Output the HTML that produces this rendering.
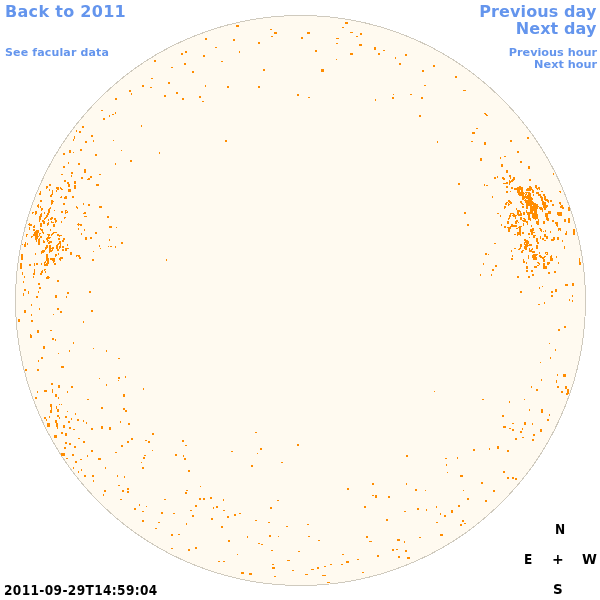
<!DOCTYPE html>
<html><head><meta charset="utf-8">
<style>
html,body{margin:0;padding:0;background:#fff;width:600px;height:600px;overflow:hidden}
body{position:relative;font-family:"DejaVu Sans","Liberation Sans",sans-serif;font-weight:bold}
.t{position:absolute;white-space:nowrap;line-height:1}
.b{color:#6495ED}
.k{font-family:"DejaVu Sans Condensed","DejaVu Sans",sans-serif;font-size:13.5px;color:#000}
.n{font-family:"DejaVu Sans",sans-serif}
#svg{position:absolute;left:0;top:0}
</style></head><body>
<svg id="svg" width="600" height="600" viewBox="0 0 600 600" shape-rendering="crispEdges">
<circle cx="300.5" cy="300.5" r="285" fill="#FFFAF0" stroke="#cfcabe" stroke-width="1" shape-rendering="crispEdges"/>
<path fill="#ff8c00" d="M181 53h2v2h-2zM185 51h2v2h-2zM154 60h2v2h-2zM184 63h2v2h-2zM171 67h2v1h-2zM192 71h2v2h-2zM151 78h2v1h-2zM168 82h2v2h-2zM142 85h2v2h-2zM150 87h2v1h-2zM129 90h2v2h-2zM131 93h1v2h-1zM176 92h2v2h-2zM164 95h2v2h-2zM182 98h2v2h-2zM199 96h2v2h-2zM115 98h2v2h-2zM236 25h3v2h-3zM270 29h2v1h-2zM274 32h3v2h-3zM271 36h2v1h-2zM205 38h2v2h-2zM233 39h2v2h-2zM258 42h2v2h-2zM215 47h2v1h-2zM239 51h1v2h-1zM203 55h2v2h-2zM221 61h2v1h-2zM263 69h2v2h-2zM205 85h1v2h-1zM227 86h2v2h-2zM258 86h2v2h-2zM297 94h2v2h-2zM345 22h3v2h-3zM342 27h2v1h-2zM307 32h3v2h-3zM301 37h2v2h-2zM350 32h3v1h-3zM360 33h2v2h-2zM356 36h2v1h-2zM336 38h3v1h-3zM336 43h2v1h-2zM359 44h3v2h-3zM315 50h2v2h-2zM374 47h2v3h-2zM383 50h2v1h-2zM378 53h2v2h-2zM350 53h3v2h-3zM336 59h1v1h-1zM395 57h1v2h-1zM399 63h2v2h-2zM321 69h3v3h-3zM308 97h2v1h-2zM392 97h2v2h-2zM393 94h1v1h-1zM375 99h1v2h-1zM405 54h2v2h-2zM433 65h2v2h-2zM422 70h2v2h-2zM455 76h2v2h-2zM424 85h2v1h-2zM463 90h3v1h-3zM410 94h2v1h-2zM421 97h2v2h-2zM82 126h2v2h-2zM76 130h1v2h-1zM79 131h2v2h-2zM74 136h1v3h-1zM73 139h1v2h-1zM91 135h2v2h-2zM93 140h1v2h-1zM85 141h2v2h-2zM80 149h2v2h-2zM69 150h2v3h-2zM73 152h1v1h-1zM63 153h2v2h-2zM95 154h2v2h-2zM68 162h1v2h-1zM78 163h2v2h-2zM63 166h2v2h-2zM84 169h2v4h-2zM71 172h2v2h-2zM71 175h1v2h-1zM99 174h2v1h-2zM81 177h2v2h-2zM90 176h2v2h-2zM88 178h2v2h-2zM87 179h2v1h-2zM65 180h1v2h-1zM74 181h2v3h-2zM67 182h2v2h-2zM68 184h2v3h-2zM74 185h2v4h-2zM96 184h3v2h-3zM68 189h3v3h-3zM65 196h2v3h-2zM72 196h2v2h-2zM101 110h2v1h-2zM109 115h1v2h-1zM112 114h2v1h-2zM115 112h1v2h-1zM103 118h2v2h-2zM141 125h1v2h-1zM113 140h1v1h-1zM121 150h1v1h-1zM159 152h1v2h-1zM130 160h2v2h-2zM115 163h1v2h-1zM202 101h2v1h-2zM225 140h2v2h-2zM419 115h2v2h-2zM484 113h2v1h-2zM485 114h2v1h-2zM486 115h2v1h-2zM476 128h2v1h-2zM472 132h3v2h-3zM437 141h1v2h-1zM471 141h2v1h-2zM484 142h2v3h-2zM480 158h2v3h-2zM494 177h2v2h-2zM497 176h1v2h-1zM458 183h2v2h-2zM484 184h1v2h-1zM486 185h2v1h-2zM492 196h1v2h-1zM527 137h2v2h-2zM510 140h2v2h-2zM517 151h2v2h-2zM504 156h2v1h-2zM500 157h1v2h-1zM520 161h2v2h-2zM501 164h2v3h-2zM528 166h2v3h-2zM506 170h2v3h-2zM553 173h1v2h-1zM560 191h1v2h-1zM560 202h1v3h-1zM561 205h2v2h-2zM562 207h2v2h-2zM560 206h2v2h-2zM568 207h2v4h-2zM560 212h2v4h-2zM564 219h2v1h-2zM568 218h2v2h-2zM497 213h2v1h-2zM494 243h2v1h-2zM560 228h1v3h-1zM564 219h2v3h-2zM568 218h2v5h-2zM565 233h2v2h-2zM566 231h1v2h-1zM573 229h2v6h-2zM579 258h1v7h-1zM580 262h1v3h-1zM495 265h2v2h-2zM492 269h2v2h-2zM491 274h1v2h-1zM526 266h2v3h-2zM534 266h3v2h-3zM537 265h2v1h-2zM543 265h2v4h-2zM545 266h2v3h-2zM526 270h2v2h-2zM531 270h2v2h-2zM532 274h2v2h-2zM528 276h2v2h-2zM517 276h2v2h-2zM548 272h2v2h-2zM554 271h2v2h-2zM565 284h3v2h-3zM572 283h2v3h-2zM539 287h1v2h-1zM542 286h1v1h-1zM520 291h2v2h-2zM551 291h2v2h-2zM555 289h2v3h-2zM551 295h2v2h-2zM572 295h1v2h-1zM569 299h1v2h-1zM572 300h1v2h-1zM538 304h2v1h-2zM544 302h1v2h-1zM22 244h1v1h-1zM24 244h1v3h-1zM21 254h2v6h-2zM20 263h2v6h-2zM29 264h2v2h-2zM34 263h1v3h-1zM34 269h1v4h-1zM22 272h1v3h-1zM33 273h2v2h-2zM33 276h1v2h-1zM24 276h1v2h-1zM23 281h1v2h-1zM39 287h2v2h-2zM24 289h2v2h-2zM28 291h1v3h-1zM23 293h1v3h-1zM38 291h1v2h-1zM36 296h2v2h-2zM67 292h2v2h-2zM66 296h1v2h-1zM55 295h2v3h-2zM31 304h1v2h-1zM39 308h1v2h-1zM24 310h2v3h-2zM57 308h2v2h-2zM60 311h2v2h-2zM53 314h1v1h-1zM31 314h1v2h-1zM18 319h2v3h-2zM31 320h2v2h-2zM37 330h2v3h-2zM50 330h2v1h-2zM30 334h1v1h-1zM88 204h2v2h-2zM99 206h3v2h-3zM85 212h1v2h-1zM85 216h2v1h-2zM107 216h2v2h-2zM109 226h3v2h-3zM116 227h1v1h-1zM95 232h2v2h-2zM85 237h2v3h-2zM90 237h2v2h-2zM109 239h1v2h-1zM121 242h2v2h-2zM99 245h1v2h-1zM100 248h1v1h-1zM108 246h1v1h-1zM110 246h2v1h-2zM115 246h1v2h-1zM93 251h1v1h-1zM92 259h2v2h-2zM89 291h2v2h-2zM166 259h1v2h-1zM464 212h2v2h-2zM467 224h2v2h-2zM485 253h2v2h-2zM488 254h1v1h-1zM483 263h1v2h-1zM480 274h1v2h-1zM30 335h2v3h-2zM52 338h2v2h-2zM55 339h1v2h-1zM73 342h1v2h-1zM43 346h2v3h-2zM93 348h1v1h-1zM106 350h1v2h-1zM69 350h1v2h-1zM58 353h1v1h-1zM41 357h2v2h-2zM38 360h1v2h-1zM61 366h3v2h-3zM25 369h2v2h-2zM37 369h2v2h-2zM99 378h1v1h-1zM51 383h2v2h-2zM58 385h2v3h-2zM71 386h2v2h-2zM106 384h1v2h-1zM44 390h3v2h-3zM37 391h1v2h-1zM52 389h1v4h-1zM67 391h1v2h-1zM55 394h2v3h-2zM35 397h2v2h-2zM58 397h1v2h-1zM87 399h2v1h-2zM50 404h2v3h-2zM51 407h1v3h-1zM50 410h2v3h-2zM56 406h1v3h-1zM57 409h2v3h-2zM59 404h1v1h-1zM61 404h1v1h-1zM101 407h2v2h-2zM67 411h1v1h-1zM75 413h1v2h-1zM44 417h2v2h-2zM46 419h1v2h-1zM49 416h1v2h-1zM57 415h2v2h-2zM59 417h1v2h-1zM65 416h2v2h-2zM71 418h1v2h-1zM77 419h2v2h-2zM83 420h1v2h-1zM55 420h2v3h-2zM56 423h2v4h-2zM68 421h2v2h-2zM47 423h3v4h-3zM63 425h2v3h-2zM69 427h2v2h-2zM86 422h1v2h-1zM91 428h2v2h-2zM101 426h2v3h-2zM118 358h2v1h-2zM118 377h2v2h-2zM118 380h1v1h-1zM125 376h1v2h-1zM143 388h1v2h-1zM123 394h2v3h-2zM434 391h1v1h-1zM558 329h2v2h-2zM564 326h2v2h-2zM549 343h1v1h-1zM555 349h1v2h-1zM550 357h1v2h-1zM540 362h1v1h-1zM557 374h1v2h-1zM563 374h3v3h-3zM541 379h1v2h-1zM556 380h1v3h-1zM557 386h2v2h-2zM531 386h1v2h-1zM536 389h2v2h-2zM565 386h2v3h-2zM561 391h2v2h-2zM567 389h2v5h-2zM566 393h2v2h-2zM482 399h2v1h-2zM524 399h1v1h-1zM57 427h1v2h-1zM73 429h2v1h-2zM109 427h2v3h-2zM54 435h3v3h-3zM61 432h2v2h-2zM65 433h2v3h-2zM78 438h2v1h-2zM83 441h2v2h-2zM65 442h2v2h-2zM69 443h2v2h-2zM74 446h2v2h-2zM64 447h2v2h-2zM131 438h2v2h-2zM127 441h2v2h-2zM121 445h2v2h-2zM91 450h2v2h-2zM115 452h2v1h-2zM61 453h4v3h-4zM72 454h2v2h-2zM87 455h1v2h-1zM66 458h2v1h-2zM98 458h3v2h-3zM80 459h2v1h-2zM75 461h2v2h-2zM73 467h1v2h-1zM81 469h1v2h-1zM78 471h1v2h-1zM105 467h1v2h-1zM84 475h2v2h-2zM92 475h2v2h-2zM93 480h1v2h-1zM117 475h1v2h-1zM124 476h1v2h-1zM118 485h2v1h-2zM127 488h2v2h-2zM122 490h2v2h-2zM127 491h2v2h-2zM104 490h2v2h-2zM103 494h1v2h-1zM120 499h2v1h-2zM134 508h2v2h-2zM139 504h1v2h-1zM152 433h2v2h-2zM145 440h2v1h-2zM148 441h2v2h-2zM182 440h2v2h-2zM185 445h2v1h-2zM152 450h1v1h-1zM144 455h2v1h-2zM143 457h2v2h-2zM175 454h2v2h-2zM183 455h1v2h-1zM184 458h2v2h-2zM141 462h1v1h-1zM142 467h2v2h-2zM188 470h2v2h-2zM231 451h2v1h-2zM200 486h1v1h-1zM186 490h2v1h-2zM185 492h2v2h-2zM164 499h2v1h-2zM199 498h2v2h-2zM203 498h2v2h-2zM210 497h2v2h-2zM223 499h1v2h-1zM255 432h2v1h-2zM260 448h2v2h-2zM257 453h1v1h-1zM297 444h2v2h-2zM281 462h2v1h-2zM251 465h2v2h-2zM406 455h2v2h-2zM372 483h2v2h-2zM406 483h1v2h-1zM347 488h2v2h-2zM415 489h2v2h-2zM425 490h1v1h-1zM372 495h2v1h-2zM375 495h2v3h-2zM388 496h2v2h-2zM509 401h1v2h-1zM529 409h1v2h-1zM541 409h2v4h-2zM549 414h1v2h-1zM547 419h2v2h-2zM502 415h2v2h-2zM512 423h2v1h-2zM524 422h2v3h-2zM532 423h1v2h-1zM503 426h3v2h-3zM509 428h2v1h-2zM512 429h2v2h-2zM522 428h1v2h-1zM520 431h2v2h-2zM540 429h2v3h-2zM533 434h2v2h-2zM515 438h2v2h-2zM522 437h2v1h-2zM532 439h2v2h-2zM473 449h2v2h-2zM489 448h1v2h-1zM497 446h2v3h-2zM507 450h2v2h-2zM445 458h2v1h-2zM457 457h1v2h-1zM446 464h1v2h-1zM447 472h1v1h-1zM460 475h3v2h-3zM503 471h2v2h-2zM507 477h2v2h-2zM512 477h2v2h-2zM515 478h2v2h-2zM481 482h2v2h-2zM463 490h1v1h-1zM493 490h2v2h-2zM146 506h1v1h-1zM142 511h2v1h-2zM161 512h2v2h-2zM173 513h2v1h-2zM190 510h2v1h-2zM195 505h2v2h-2zM192 515h2v2h-2zM142 520h2v2h-2zM158 522h2v1h-2zM186 523h1v2h-1zM155 528h2v1h-2zM171 534h2v2h-2zM178 534h2v1h-2zM171 548h2v1h-2zM188 549h2v2h-2zM195 547h2v2h-2zM277 500h2v1h-2zM213 507h1v2h-1zM216 506h2v2h-2zM270 507h2v2h-2zM223 510h2v1h-2zM239 513h2v1h-2zM234 514h2v2h-2zM227 516h2v2h-2zM211 518h2v2h-2zM255 520h2v1h-2zM268 522h2v1h-2zM286 526h2v1h-2zM221 526h2v2h-2zM269 535h2v2h-2zM278 536h1v1h-1zM247 536h1v2h-1zM228 540h2v2h-2zM258 543h2v1h-2zM261 544h2v1h-2zM271 550h2v1h-2zM298 551h2v1h-2zM237 554h1v1h-1zM218 561h2v1h-2zM223 561h2v1h-2zM287 560h3v1h-3zM272 564h2v1h-2zM272 567h3v2h-3zM292 570h2v1h-2zM241 572h3v2h-3zM249 573h3v2h-3zM274 576h2v1h-2zM364 506h2v2h-2zM386 519h2v2h-2zM307 524h2v1h-2zM308 536h2v1h-2zM318 540h2v1h-2zM366 536h2v2h-2zM369 541h3v1h-3zM397 539h3v2h-3zM392 549h2v2h-2zM396 549h2v1h-2zM398 556h2v2h-2zM377 555h2v2h-2zM342 554h2v1h-2zM357 559h2v1h-2zM346 561h3v2h-3zM341 564h2v1h-2zM330 564h2v1h-2zM324 566h2v1h-2zM317 567h2v2h-2zM311 569h3v1h-3zM305 574h3v1h-3zM322 575h4v1h-4zM362 572h2v1h-2zM327 582h3v1h-3zM467 498h2v2h-2zM485 500h2v2h-2zM417 508h2v2h-2zM436 506h1v2h-1zM458 505h2v2h-2zM404 511h2v1h-2zM426 509h1v2h-1zM451 510h2v3h-2zM440 513h1v2h-1zM444 515h2v2h-2zM462 520h2v2h-2zM464 523h2v1h-2zM460 524h2v2h-2zM436 522h2v1h-2zM440 534h3v2h-3zM419 537h2v1h-2zM404 541h1v2h-1zM405 550h2v2h-2zM407 557h3v2h-3zM91 310h2v2h-2zM83 321h1v2h-1zM123 408h2v2h-2zM125 410h2v2h-2zM120 421h1v2h-1zM128 423h2v2h-2zM509 175h2v1h-2zM509 176h2v1h-2zM502 177h2v1h-2zM510 177h1v1h-1zM513 177h2v1h-2zM502 178h3v1h-3zM510 178h1v1h-1zM513 178h2v1h-2zM503 179h2v1h-2zM512 179h3v1h-3zM529 179h1v1h-1zM509 180h1v1h-1zM511 180h3v1h-3zM529 180h1v1h-1zM509 181h2v1h-2zM511 181h2v1h-2zM506 182h2v1h-2zM509 182h2v1h-2zM503 183h5v1h-5zM509 183h1v1h-1zM509 184h1v1h-1zM506 186h2v1h-2zM519 186h2v1h-2zM529 186h1v1h-1zM506 187h2v1h-2zM511 187h2v1h-2zM517 187h6v1h-6zM529 187h1v1h-1zM511 188h2v1h-2zM514 188h9v1h-9zM527 188h3v1h-3zM514 189h9v1h-9zM526 189h4v1h-4zM517 190h3v1h-3zM521 190h2v1h-2zM526 190h4v1h-4zM506 191h2v1h-2zM510 191h1v1h-1zM517 191h3v1h-3zM521 191h2v1h-2zM506 192h2v1h-2zM517 192h7v1h-7zM525 192h5v1h-5zM518 193h7v1h-7zM526 193h1v1h-1zM528 193h2v1h-2zM518 194h6v1h-6zM525 194h2v1h-2zM528 194h2v1h-2zM519 195h5v1h-5zM525 195h1v1h-1zM527 195h3v1h-3zM522 196h8v1h-8zM522 197h8v1h-8zM522 198h3v1h-3zM526 198h4v1h-4zM522 199h2v1h-2zM525 199h1v1h-1zM528 199h2v1h-2zM508 200h2v1h-2zM524 200h6v1h-6zM508 201h3v1h-3zM520 201h2v1h-2zM525 201h5v1h-5zM506 202h2v1h-2zM509 202h3v1h-3zM520 202h2v1h-2zM525 202h5v1h-5zM505 203h2v1h-2zM508 203h1v1h-1zM510 203h2v1h-2zM521 203h2v1h-2zM526 203h4v1h-4zM505 204h2v1h-2zM508 204h2v1h-2zM522 204h2v1h-2zM526 204h4v1h-4zM530 179h1v1h-1zM530 180h1v1h-1zM535 185h2v1h-2zM530 186h1v1h-1zM535 186h2v1h-2zM530 187h2v1h-2zM535 187h2v1h-2zM538 187h2v1h-2zM530 188h2v1h-2zM536 188h4v1h-4zM530 189h3v1h-3zM537 189h1v1h-1zM539 189h1v1h-1zM530 190h1v1h-1zM532 190h2v1h-2zM532 191h2v1h-2zM541 191h2v1h-2zM559 191h1v1h-1zM532 192h2v1h-2zM536 192h3v1h-3zM530 193h1v1h-1zM536 193h3v1h-3zM530 194h1v1h-1zM533 194h1v1h-1zM538 194h3v1h-3zM543 194h2v1h-2zM530 195h1v1h-1zM533 195h1v1h-1zM538 195h3v1h-3zM543 195h2v1h-2zM530 196h1v1h-1zM540 196h2v1h-2zM544 196h2v1h-2zM530 197h2v1h-2zM540 197h3v1h-3zM544 197h2v1h-2zM530 198h3v1h-3zM541 198h2v1h-2zM544 198h2v1h-2zM530 199h3v1h-3zM541 199h2v1h-2zM544 199h4v1h-4zM530 200h2v1h-2zM541 200h2v1h-2zM545 200h4v1h-4zM550 200h2v1h-2zM530 201h3v1h-3zM542 201h2v1h-2zM547 201h2v1h-2zM550 201h2v1h-2zM530 202h4v1h-4zM542 202h4v1h-4zM548 202h1v1h-1zM559 202h1v1h-1zM530 203h6v1h-6zM542 203h4v1h-4zM559 203h1v1h-1zM530 204h8v1h-8zM542 204h4v1h-4zM552 204h2v1h-2zM508 205h1v1h-1zM526 205h4v1h-4zM504 206h2v1h-2zM522 206h2v1h-2zM526 206h2v1h-2zM504 207h2v1h-2zM522 207h2v1h-2zM526 207h2v1h-2zM504 208h1v1h-1zM516 208h1v1h-1zM526 208h2v1h-2zM516 209h1v1h-1zM517 210h3v1h-3zM526 210h1v1h-1zM517 211h4v1h-4zM526 211h1v1h-1zM517 212h2v1h-2zM520 212h1v1h-1zM523 212h2v1h-2zM526 212h4v1h-4zM510 213h4v1h-4zM517 213h2v1h-2zM520 213h2v1h-2zM523 213h2v1h-2zM527 213h3v1h-3zM510 214h1v1h-1zM513 214h2v1h-2zM517 214h5v1h-5zM523 214h2v1h-2zM527 214h3v1h-3zM500 215h1v1h-1zM509 215h2v1h-2zM512 215h5v1h-5zM518 215h4v1h-4zM528 215h2v1h-2zM500 216h1v1h-1zM509 216h2v1h-2zM513 216h3v1h-3zM528 216h2v1h-2zM509 217h1v1h-1zM515 217h1v1h-1zM520 217h2v1h-2zM528 217h2v1h-2zM508 218h2v1h-2zM515 218h1v1h-1zM520 218h2v1h-2zM523 218h2v1h-2zM528 218h2v1h-2zM508 219h1v1h-1zM520 219h2v1h-2zM524 219h2v1h-2zM528 219h2v1h-2zM516 220h2v1h-2zM522 220h4v1h-4zM507 221h2v1h-2zM515 221h3v1h-3zM523 221h5v1h-5zM507 222h2v1h-2zM515 222h2v1h-2zM518 222h1v1h-1zM526 222h2v1h-2zM507 223h2v1h-2zM515 223h2v1h-2zM523 223h1v1h-1zM527 223h1v1h-1zM501 224h1v1h-1zM511 224h2v1h-2zM523 224h1v1h-1zM527 224h1v1h-1zM501 225h1v1h-1zM511 225h6v1h-6zM523 225h1v1h-1zM504 226h2v1h-2zM510 226h7v1h-7zM519 226h3v1h-3zM504 227h2v1h-2zM507 227h4v1h-4zM518 227h3v1h-3zM508 228h3v1h-3zM516 228h2v1h-2zM519 228h2v1h-2zM508 229h2v1h-2zM519 229h2v1h-2zM508 230h2v1h-2zM519 230h2v1h-2zM508 231h2v1h-2zM519 231h2v1h-2zM517 232h4v1h-4zM522 232h2v1h-2zM517 233h4v1h-4zM522 233h2v1h-2zM528 233h2v1h-2zM514 234h2v1h-2zM517 234h4v1h-4zM528 234h2v1h-2zM530 205h2v1h-2zM533 205h5v1h-5zM543 205h5v1h-5zM552 205h2v1h-2zM530 206h9v1h-9zM543 206h5v1h-5zM530 207h8v1h-8zM539 207h3v1h-3zM543 207h4v1h-4zM530 208h8v1h-8zM539 208h4v1h-4zM544 208h2v1h-2zM530 209h7v1h-7zM540 209h3v1h-3zM544 209h2v1h-2zM530 210h7v1h-7zM542 210h1v1h-1zM530 211h3v1h-3zM534 211h3v1h-3zM542 211h1v1h-1zM548 211h3v1h-3zM530 212h3v1h-3zM534 212h3v1h-3zM548 212h3v1h-3zM557 212h3v1h-3zM530 213h7v1h-7zM545 213h3v1h-3zM548 213h3v1h-3zM557 213h3v1h-3zM532 214h6v1h-6zM545 214h3v1h-3zM557 214h3v1h-3zM532 215h6v1h-6zM545 215h3v1h-3zM558 215h2v1h-2zM532 216h6v1h-6zM545 216h3v1h-3zM532 217h6v1h-6zM546 217h2v1h-2zM530 218h1v1h-1zM533 218h5v1h-5zM546 218h3v1h-3zM530 219h1v1h-1zM535 219h1v1h-1zM538 219h1v1h-1zM546 219h3v1h-3zM530 220h1v1h-1zM538 220h1v1h-1zM547 220h2v1h-2zM552 220h2v1h-2zM536 221h3v1h-3zM543 221h2v1h-2zM552 221h2v1h-2zM536 222h3v1h-3zM543 222h2v1h-2zM555 222h3v1h-3zM536 223h3v1h-3zM543 223h2v1h-2zM555 223h3v1h-3zM537 224h2v1h-2zM556 224h2v1h-2zM531 225h1v1h-1zM556 225h2v1h-2zM531 226h1v1h-1zM557 226h1v1h-1zM532 228h2v1h-2zM539 228h2v1h-2zM558 228h2v1h-2zM530 229h4v1h-4zM540 229h2v1h-2zM558 229h2v1h-2zM530 230h4v1h-4zM540 230h2v1h-2zM545 230h1v1h-1zM558 230h1v1h-1zM530 231h3v1h-3zM541 231h1v1h-1zM543 231h1v1h-1zM545 231h1v1h-1zM550 231h1v1h-1zM531 232h4v1h-4zM550 232h1v1h-1zM531 233h2v1h-2zM531 234h2v1h-2zM544 234h2v1h-2zM517 235h1v1h-1zM520 235h1v1h-1zM533 235h2v1h-2zM533 236h2v1h-2zM529 237h1v1h-1zM533 237h2v1h-2zM524 239h2v1h-2zM524 240h4v1h-4zM525 241h4v1h-4zM524 242h5v1h-5zM524 243h1v1h-1zM526 243h3v1h-3zM520 244h2v1h-2zM524 244h4v1h-4zM529 244h3v1h-3zM520 245h2v1h-2zM525 245h7v1h-7zM520 246h2v1h-2zM524 246h4v1h-4zM520 247h1v1h-1zM524 247h3v1h-3zM514 248h2v1h-2zM519 248h2v1h-2zM524 248h3v1h-3zM529 248h1v1h-1zM532 248h1v1h-1zM518 249h2v1h-2zM525 249h2v1h-2zM529 249h1v1h-1zM531 249h2v1h-2zM511 250h1v1h-1zM522 250h2v1h-2zM529 250h3v1h-3zM511 251h1v1h-1zM521 251h2v1h-2zM529 251h6v1h-6zM521 252h2v1h-2zM532 252h3v1h-3zM533 254h2v1h-2zM512 255h1v1h-1zM528 255h1v1h-1zM532 255h3v1h-3zM512 256h1v1h-1zM528 256h1v1h-1zM532 256h3v1h-3zM528 257h1v1h-1zM532 257h3v1h-3zM511 258h2v1h-2zM528 258h1v1h-1zM533 258h2v1h-2zM511 259h2v1h-2zM523 259h1v1h-1zM533 259h2v1h-2zM523 260h1v1h-1zM523 261h2v1h-2zM523 262h2v1h-2zM526 262h1v1h-1zM526 263h1v1h-1zM535 235h1v1h-1zM544 235h2v1h-2zM540 236h1v1h-1zM544 236h4v1h-4zM540 237h1v1h-1zM546 237h2v1h-2zM553 237h2v1h-2zM557 237h2v1h-2zM536 238h2v1h-2zM540 238h1v1h-1zM542 238h2v1h-2zM546 238h2v1h-2zM553 238h2v1h-2zM557 238h2v1h-2zM536 239h2v1h-2zM542 239h2v1h-2zM551 239h4v1h-4zM557 239h2v1h-2zM536 240h2v1h-2zM544 240h2v1h-2zM551 240h3v1h-3zM562 240h1v1h-1zM536 241h2v1h-2zM562 241h1v1h-1zM537 242h2v1h-2zM537 243h2v1h-2zM536 245h2v1h-2zM536 246h2v1h-2zM564 246h1v1h-1zM536 247h2v1h-2zM564 247h1v1h-1zM536 248h2v1h-2zM564 248h1v1h-1zM539 252h1v1h-1zM545 252h3v1h-3zM539 253h1v1h-1zM545 253h1v1h-1zM547 253h1v1h-1zM535 254h3v1h-3zM546 254h2v1h-2zM535 255h2v1h-2zM539 255h2v1h-2zM551 255h1v1h-1zM535 256h1v1h-1zM539 256h3v1h-3zM544 256h2v1h-2zM550 256h2v1h-2zM556 256h1v1h-1zM535 257h2v1h-2zM540 257h5v1h-5zM550 257h2v1h-2zM556 257h1v1h-1zM535 258h2v1h-2zM542 258h2v1h-2zM550 258h3v1h-3zM535 259h2v1h-2zM543 259h2v1h-2zM550 259h3v1h-3zM543 260h2v1h-2zM550 260h3v1h-3zM543 261h2v1h-2zM537 262h2v1h-2zM547 262h3v1h-3zM558 262h1v1h-1zM538 263h2v1h-2zM543 263h2v1h-2zM547 263h3v1h-3zM558 263h1v1h-1zM539 264h1v1h-1zM543 264h2v1h-2zM547 264h2v1h-2zM40 200h2v1h-2zM51 200h2v1h-2zM40 201h2v1h-2zM51 201h3v1h-3zM51 202h2v1h-2zM51 203h2v1h-2zM38 204h1v1h-1zM51 204h1v1h-1zM37 205h2v1h-2zM37 206h2v1h-2zM40 206h1v1h-1zM38 207h1v1h-1zM40 207h1v1h-1zM50 207h1v1h-1zM41 208h2v1h-2zM49 208h2v1h-2zM41 209h2v1h-2zM48 209h2v1h-2zM41 210h1v1h-1zM48 210h2v1h-2zM54 210h1v1h-1zM35 211h2v1h-2zM48 211h2v1h-2zM32 212h2v1h-2zM35 212h2v1h-2zM44 212h1v1h-1zM48 212h2v1h-2zM32 213h1v1h-1zM35 213h2v1h-2zM41 213h1v1h-1zM44 213h1v1h-1zM47 213h2v1h-2zM35 214h1v1h-1zM40 214h2v1h-2zM47 214h2v1h-2zM40 215h2v1h-2zM46 215h2v1h-2zM39 216h3v1h-3zM46 216h2v1h-2zM39 217h2v1h-2zM45 217h2v1h-2zM51 217h2v1h-2zM39 218h2v1h-2zM44 218h2v1h-2zM50 218h3v1h-3zM54 218h1v1h-1zM39 219h2v1h-2zM44 219h1v1h-1zM48 219h1v1h-1zM50 219h2v1h-2zM54 219h1v1h-1zM39 220h1v1h-1zM42 220h2v1h-2zM48 220h1v1h-1zM39 221h1v1h-1zM42 221h3v1h-3zM51 221h1v1h-1zM43 222h2v1h-2zM48 222h1v1h-1zM51 222h3v1h-3zM29 223h1v1h-1zM40 223h2v1h-2zM43 223h2v1h-2zM47 223h2v1h-2zM28 224h4v1h-4zM40 224h2v1h-2zM47 224h2v1h-2zM53 224h2v1h-2zM29 225h3v1h-3zM34 225h1v1h-1zM40 225h2v1h-2zM47 225h1v1h-1zM53 225h2v1h-2zM33 226h2v1h-2zM40 226h2v1h-2zM53 226h2v1h-2zM29 227h1v1h-1zM33 227h2v1h-2zM29 228h1v1h-1zM40 228h1v1h-1zM29 229h1v1h-1zM33 229h2v1h-2zM40 229h3v1h-3zM50 229h1v1h-1zM33 230h2v1h-2zM36 230h3v1h-3zM41 230h2v1h-2zM50 230h1v1h-1zM35 231h4v1h-4zM42 231h1v1h-1zM34 232h5v1h-5zM42 232h2v1h-2zM53 232h2v1h-2zM34 233h4v1h-4zM39 233h2v1h-2zM43 233h1v1h-1zM52 233h2v1h-2zM26 234h2v1h-2zM33 234h5v1h-5zM39 234h1v1h-1zM47 234h3v1h-3zM51 234h2v1h-2zM26 235h1v1h-1zM33 235h5v1h-5zM39 235h1v1h-1zM48 235h2v1h-2zM51 235h1v1h-1zM26 236h1v1h-1zM31 236h2v1h-2zM35 236h4v1h-4zM40 236h2v1h-2zM48 236h1v1h-1zM31 237h1v1h-1zM35 237h3v1h-3zM40 237h2v1h-2zM47 237h4v1h-4zM35 238h3v1h-3zM39 238h1v1h-1zM46 238h4v1h-4zM35 239h2v1h-2zM38 239h2v1h-2zM46 239h2v1h-2zM36 240h1v1h-1zM38 240h2v1h-2zM43 240h1v1h-1zM47 240h2v1h-2zM36 241h1v1h-1zM38 241h2v1h-2zM43 241h2v1h-2zM47 241h1v1h-1zM49 241h3v1h-3zM25 242h1v1h-1zM38 242h2v1h-2zM43 242h2v1h-2zM48 242h4v1h-4zM25 243h1v1h-1zM27 243h1v1h-1zM38 243h2v1h-2zM48 243h2v1h-2zM25 244h1v1h-1zM27 244h1v1h-1zM38 244h2v1h-2zM25 245h1v1h-1zM46 245h2v1h-2zM49 245h2v1h-2zM25 246h1v1h-1zM46 246h2v1h-2zM49 246h2v1h-2zM45 247h3v1h-3zM49 247h2v1h-2zM52 247h2v1h-2zM45 248h2v1h-2zM49 248h5v1h-5zM45 249h1v1h-1zM49 249h2v1h-2zM52 249h1v1h-1zM42 250h3v1h-3zM49 250h4v1h-4zM41 251h4v1h-4zM49 251h3v1h-3zM41 252h3v1h-3zM49 252h1v1h-1zM35 253h1v1h-1zM41 253h1v1h-1zM35 254h1v1h-1zM46 254h2v1h-2zM46 255h2v1h-2zM46 256h2v1h-2zM46 257h2v1h-2zM46 258h3v1h-3zM50 258h5v1h-5zM46 259h3v1h-3zM50 259h5v1h-5zM63 203h2v1h-2zM83 203h1v1h-1zM63 204h2v1h-2zM83 204h1v1h-1zM76 206h1v1h-1zM76 207h2v1h-2zM77 208h1v1h-1zM65 210h2v1h-2zM61 211h2v1h-2zM65 211h1v1h-1zM67 211h1v1h-1zM61 212h2v1h-2zM65 212h3v1h-3zM84 212h1v1h-1zM65 213h1v1h-1zM83 213h2v1h-2zM84 216h1v1h-1zM64 217h2v1h-2zM55 218h1v1h-1zM64 218h1v1h-1zM55 219h1v1h-1zM55 220h2v1h-2zM55 221h2v1h-2zM61 221h1v1h-1zM55 222h1v1h-1zM61 222h1v1h-1zM78 223h1v1h-1zM77 224h5v1h-5zM78 225h1v1h-1zM80 225h2v1h-2zM78 228h1v1h-1zM78 229h1v1h-1zM84 229h1v1h-1zM61 174h2v1h-2zM64 180h1v1h-1zM64 181h1v1h-1zM49 184h2v1h-2zM49 185h2v1h-2zM46 186h2v1h-2zM46 187h2v1h-2zM56 187h3v1h-3zM60 187h1v1h-1zM46 188h1v1h-1zM56 188h3v1h-3zM60 188h2v1h-2zM49 189h1v1h-1zM57 189h2v1h-2zM61 189h2v1h-2zM49 190h1v1h-1zM52 190h1v1h-1zM56 190h1v1h-1zM40 191h1v1h-1zM52 191h1v1h-1zM56 191h1v1h-1zM40 192h1v1h-1zM52 192h1v1h-1zM39 193h2v1h-2zM52 193h1v1h-1zM39 194h2v1h-2zM51 194h2v1h-2zM50 195h2v1h-2zM50 196h2v1h-2zM61 196h1v1h-1zM60 197h2v1h-2zM64 197h1v1h-1zM64 198h1v1h-1zM84 230h1v1h-1zM55 232h2v1h-2zM81 233h1v1h-1zM57 234h2v1h-2zM81 234h1v1h-1zM57 235h5v1h-5zM59 236h1v1h-1zM58 238h2v1h-2zM63 238h2v1h-2zM58 239h2v1h-2zM63 239h2v1h-2zM62 240h2v1h-2zM59 241h2v1h-2zM62 241h2v1h-2zM59 242h2v1h-2zM58 243h3v1h-3zM57 244h2v1h-2zM60 244h1v1h-1zM67 244h1v1h-1zM56 245h2v1h-2zM60 245h1v1h-1zM67 245h1v1h-1zM56 246h2v1h-2zM59 246h2v1h-2zM62 246h2v1h-2zM56 247h2v1h-2zM59 247h2v1h-2zM62 247h2v1h-2zM56 248h2v1h-2zM59 248h1v1h-1zM65 248h4v1h-4zM57 249h2v1h-2zM62 249h2v1h-2zM65 249h2v1h-2zM57 250h2v1h-2zM62 250h2v1h-2zM65 250h2v1h-2zM70 252h2v1h-2zM58 253h1v1h-1zM70 253h2v1h-2zM55 254h2v1h-2zM58 254h1v1h-1zM70 254h2v1h-2zM55 255h2v1h-2zM76 255h4v1h-4zM55 256h1v1h-1zM76 256h1v1h-1zM78 256h2v1h-2zM60 257h3v1h-3zM79 257h2v1h-2zM59 258h3v1h-3zM79 258h2v1h-2zM59 259h2v1h-2zM46 255h2v1h-2zM55 255h2v1h-2zM46 256h2v1h-2zM55 256h1v1h-1zM46 257h2v1h-2zM60 257h3v1h-3zM46 258h2v1h-2zM50 258h4v1h-4zM59 258h4v1h-4zM46 259h3v1h-3zM51 259h4v1h-4zM59 259h2v1h-2zM46 260h3v1h-3zM52 260h3v1h-3zM60 260h1v1h-1zM45 261h1v1h-1zM47 261h2v1h-2zM53 261h2v1h-2zM44 262h2v1h-2zM47 262h2v1h-2zM53 262h1v1h-1zM36 263h2v1h-2zM41 263h1v1h-1zM44 263h1v1h-1zM46 263h3v1h-3zM54 263h2v1h-2zM36 264h2v1h-2zM41 264h1v1h-1zM44 264h4v1h-4zM54 264h2v1h-2zM44 265h4v1h-4zM44 269h2v1h-2zM42 270h1v1h-1zM44 270h1v1h-1zM41 271h2v1h-2zM45 271h1v1h-1zM41 272h2v1h-2zM45 272h1v1h-1zM40 273h2v1h-2zM40 274h2v1h-2zM47 276h2v1h-2zM46 277h4v1h-4zM46 278h3v1h-3zM57 280h2v1h-2zM57 281h2v1h-2zM38 283h2v1h-2zM38 284h2v1h-2z"/>
</svg>
<div class="t b" style="left:5px;top:4px;font-size:16px;letter-spacing:0.3px">Back to 2011</div>
<div class="t b" style="left:5px;top:47px;font-size:11px;letter-spacing:0.15px">See facular data</div>
<div class="t b" style="right:3.5px;top:3px;font-size:16px;line-height:17px;letter-spacing:0.1px;text-align:right">Previous day<br>Next day</div>
<div class="t b" style="right:3px;top:47px;font-size:11.25px;line-height:12px;text-align:right">Previous hour<br>Next hour</div>
<div class="t k" style="left:4px;top:584px;letter-spacing:0.38px">2011-09-29T14:59:04</div>
<div class="t k" style="left:555px;top:523px">N</div>
<div class="t k" style="left:524px;top:553px">E</div>
<div class="t k n" style="left:552px;top:552px;font-size:14px">+</div>
<div class="t k n" style="left:582px;top:553px">W</div>
<div class="t k n" style="left:553px;top:583px">S</div>
</body></html>
